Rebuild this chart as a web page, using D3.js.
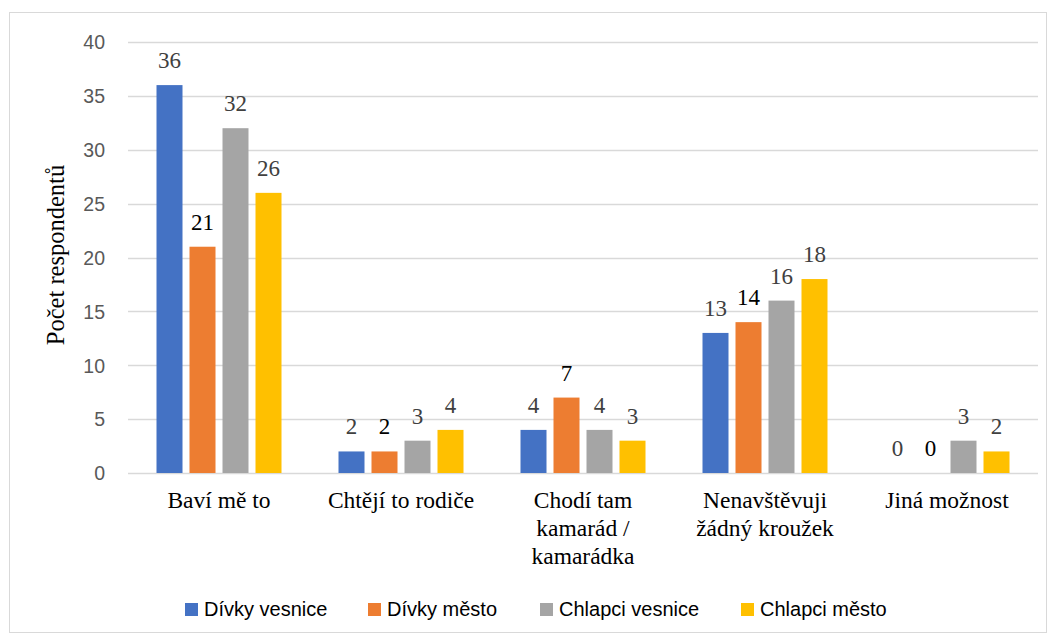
<!DOCTYPE html>
<html><head><meta charset="utf-8">
<script src="https://cdn.jsdelivr.net/npm/d3@7"></script>
<style>body{margin:0;background:#fff}</style>
</head><body>
<svg id="c" width="1056" height="640"></svg>
<script>
const categories = [["Baví mě to"],["Chtějí to rodiče"],["Chodí tam","kamarád /","kamarádka"],["Nenavštěvuji","žádný kroužek"],["Jiná možnost"]];
const seriesNames = ["Dívky vesnice","Dívky město","Chlapci vesnice","Chlapci město"];
const divkyVesnice = [36,2,4,13,0];
const divkyMesto = [21,2,7,14,0];
const chlapciVesnice = [32,3,4,16,3];
const chlapciMesto = [26,4,3,18,2];
const yTicks = [0,5,10,15,20,25,30,35,40];
const colors = ["#4472C4","#ED7D31","#A5A5A5","#FFC000"];
const labelColors = ["#404040","#000000","#404040","#404040"];
const series = [divkyVesnice, divkyMesto, chlapciVesnice, chlapciMesto];

(function(){
const svg = d3.select("#c");
svg.append("rect").attr("x",9.5).attr("y",12.5).attr("width",1037).attr("height",620)
  .attr("fill","#fff").attr("stroke","#d9d9d9");

const pl=128, pr=1038, pt=42, pb=473;
const serif = "Liberation Serif, Times New Roman, serif";
const sans = "Liberation Sans, Arial, sans-serif";
const y = d3.scaleLinear().domain([0,40]).range([pb,pt]);
const x0 = d3.scaleBand().domain(d3.range(categories.length)).range([pl,pr]);
const groupW = 125;
const x1 = d3.scaleBand().domain(d3.range(4)).range([0,groupW]).paddingInner(7/33).paddingOuter(0);

svg.append("g").selectAll("line").data(yTicks).join("line")
  .attr("x1",pl).attr("x2",pr).attr("y1",d=>Math.round(y(d))+0.5).attr("y2",d=>Math.round(y(d))+0.5)
  .attr("stroke","#d9d9d9").attr("stroke-width",1.3);

const yAxis = d3.axisLeft(y).tickValues(yTicks).tickSize(0).tickPadding(0);
const ya = svg.append("g").attr("transform",`translate(105,0)`).call(yAxis);
ya.select(".domain").remove();
ya.selectAll("text").attr("font-family",sans).attr("font-size",19.5).attr("fill","#595959").attr("dy","0.35em");

const groupOffset = (x0.bandwidth()-groupW)/2;
series.forEach((vals,si)=>{
  const g = svg.append("g");
  g.selectAll("rect").data(vals).join("rect")
    .attr("x",(d,i)=>x0(i)+groupOffset+x1(si))
    .attr("width",x1.bandwidth())
    .attr("y",d=>y(d)).attr("height",d=>y(0)-y(d))
    .attr("fill",colors[si]);
  g.selectAll("text").data(vals).join("text")
    .attr("x",(d,i)=>x0(i)+groupOffset+x1(si)+x1.bandwidth()/2)
    .attr("y",d=>y(d)-17)
    .attr("text-anchor","middle")
    .attr("font-family",serif)
    .attr("font-size",23).attr("fill",labelColors[si])
    .text(d=>d);
});

categories.forEach((lines,i)=>{
  const t = svg.append("text").attr("text-anchor","middle")
    .attr("font-family",serif).attr("font-size",23.5).attr("fill","#000");
  lines.forEach((l,j)=>{
    t.append("tspan").attr("x",x0(i)+x0.bandwidth()/2).attr("y",508+j*28).text(l);
  });
});

svg.append("text").attr("transform","translate(64,255) rotate(-90)").attr("text-anchor","middle")
  .attr("font-family",serif).attr("font-size",24.5).attr("fill","#000")
  .text("Počet respondentů");

const legX = [185,368,540,741];
const lg = svg.append("g");
seriesNames.forEach((n,i)=>{
  lg.append("rect").attr("x",legX[i]).attr("y",603).attr("width",13).attr("height",13).attr("fill",colors[i]);
  lg.append("text").attr("x",legX[i]+19).attr("y",616)
    .attr("font-family",sans).attr("font-size",20).attr("fill","#000").text(n);
});
})();
</script>
</body></html>
